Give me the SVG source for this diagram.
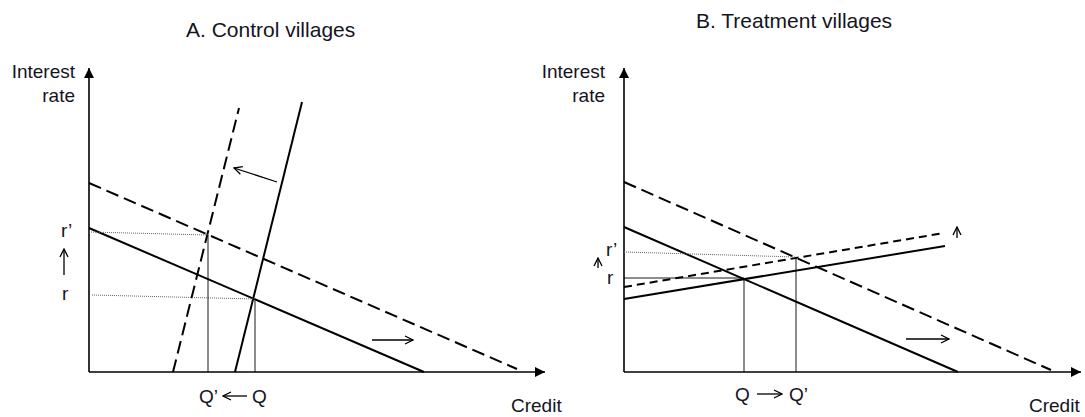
<svg xmlns="http://www.w3.org/2000/svg" width="1085" height="417" viewBox="0 0 1085 417">
<style>
.t{font-family:"Liberation Sans",Arial,sans-serif;fill:#14141e}
.title{font-size:21px}
.lab{font-size:19px}
.axis{stroke:#000;stroke-width:1.6;fill:none}
.main{stroke:#000;stroke-width:2;fill:none}
.dash{stroke:#000;stroke-width:2;fill:none;stroke-dasharray:13 6}
.dash2{stroke:#000;stroke-width:2;fill:none;stroke-dasharray:8 5}
.thin{stroke:#000;stroke-width:0.9;fill:none}
.dot{stroke:#666;stroke-width:1;fill:none;stroke-dasharray:1 1}
.arr{stroke:#000;stroke-width:1.3;fill:none}
</style>
<defs>
<marker id="ah" viewBox="0 0 10 10" refX="10" refY="5" markerWidth="10" markerHeight="10" markerUnits="userSpaceOnUse" orient="auto">
<path d="M0,0 L10,5 L0,10 z" fill="#000"/>
</marker>
<marker id="oh" viewBox="0 0 10 10" refX="9" refY="5" markerWidth="10" markerHeight="10" markerUnits="userSpaceOnUse" orient="auto">
<path d="M1,1 L9,5 L1,9" fill="none" stroke="#000" stroke-width="1.3"/>
</marker>
</defs>
<g id="panelA">
<text class="t title" x="186" y="37">A. Control villages</text>
<g id="axesA">
<line class="axis" x1="89" y1="372" x2="89" y2="68" marker-end="url(#ah)"/>
<line class="axis" x1="89" y1="372" x2="545" y2="372" marker-end="url(#ah)"/>
<text class="t lab" x="75" y="78" text-anchor="end">Interest</text>
<text class="t lab" x="75" y="102" text-anchor="end">rate</text>
<text class="t lab" x="511" y="412">Credit</text>
</g>
<g id="curvesA">
<line class="main" x1="89" y1="228" x2="424" y2="372"/>
<line class="dash" x1="89" y1="183" x2="517" y2="369"/>
<line class="main" x1="235" y1="372" x2="302" y2="102"/>
<line class="dash" x1="173" y1="372" x2="239" y2="108"/>
</g>
<g id="guidesA">
<line class="dot" x1="89" y1="232" x2="208" y2="235"/>
<line class="dot" x1="92" y1="295" x2="255" y2="299"/>
<line class="thin" x1="208" y1="235" x2="208" y2="372"/>
<line class="thin" x1="255" y1="299" x2="255" y2="372"/>
</g>
<g id="shiftsA">
<line class="arr" x1="277" y1="182" x2="234" y2="168" marker-end="url(#oh)"/>
<line class="arr" x1="372" y1="340" x2="413" y2="340" marker-end="url(#oh)"/>
<line class="arr" x1="64" y1="275" x2="64" y2="249" marker-end="url(#oh)"/>
</g>
<text class="t lab" x="61" y="237">r’</text>
<text class="t lab" x="62" y="300">r</text>
<text class="t lab" x="199" y="403">Q’</text>
<line class="arr" x1="247" y1="396" x2="223" y2="396" marker-end="url(#oh)"/>
<text class="t lab" x="252" y="403">Q</text>
</g>
<g id="panelB">
<text class="t title" x="696" y="28">B. Treatment villages</text>
<g id="axesB">
<line class="axis" x1="624" y1="372" x2="624" y2="68" marker-end="url(#ah)"/>
<line class="axis" x1="624" y1="372" x2="1081" y2="372" marker-end="url(#ah)"/>
<text class="t lab" x="605" y="78" text-anchor="end">Interest</text>
<text class="t lab" x="605" y="102" text-anchor="end">rate</text>
<text class="t lab" x="1029" y="412">Credit</text>
</g>
<g id="curvesB">
<line class="main" x1="624" y1="227" x2="958" y2="372"/>
<line class="dash" x1="624" y1="182" x2="1051" y2="370"/>
<line class="main" x1="624" y1="299" x2="945" y2="246"/>
<line class="dash2" x1="624" y1="287" x2="944" y2="233"/>
</g>
<g id="guidesB">
<line class="dot" x1="624" y1="252" x2="796" y2="257"/>
<line class="thin" x1="624" y1="278" x2="744" y2="278"/>
<line class="thin" x1="744" y1="278" x2="744" y2="372"/>
<line class="thin" x1="796" y1="257" x2="796" y2="372"/>
</g>
<g id="shiftsB">
<line class="arr" x1="906" y1="339" x2="949" y2="339" marker-end="url(#oh)"/>
<line class="arr" x1="957" y1="238" x2="957" y2="227" marker-end="url(#oh)"/>
<line class="arr" x1="598" y1="268" x2="598" y2="258" marker-end="url(#oh)"/>
</g>
<text class="t lab" x="606" y="256">r’</text>
<text class="t lab" x="607" y="284">r</text>
<text class="t lab" x="735" y="401">Q</text>
<line class="arr" x1="757" y1="394" x2="782" y2="394" marker-end="url(#oh)"/>
<text class="t lab" x="789" y="401">Q’</text>
</g>
</svg>
